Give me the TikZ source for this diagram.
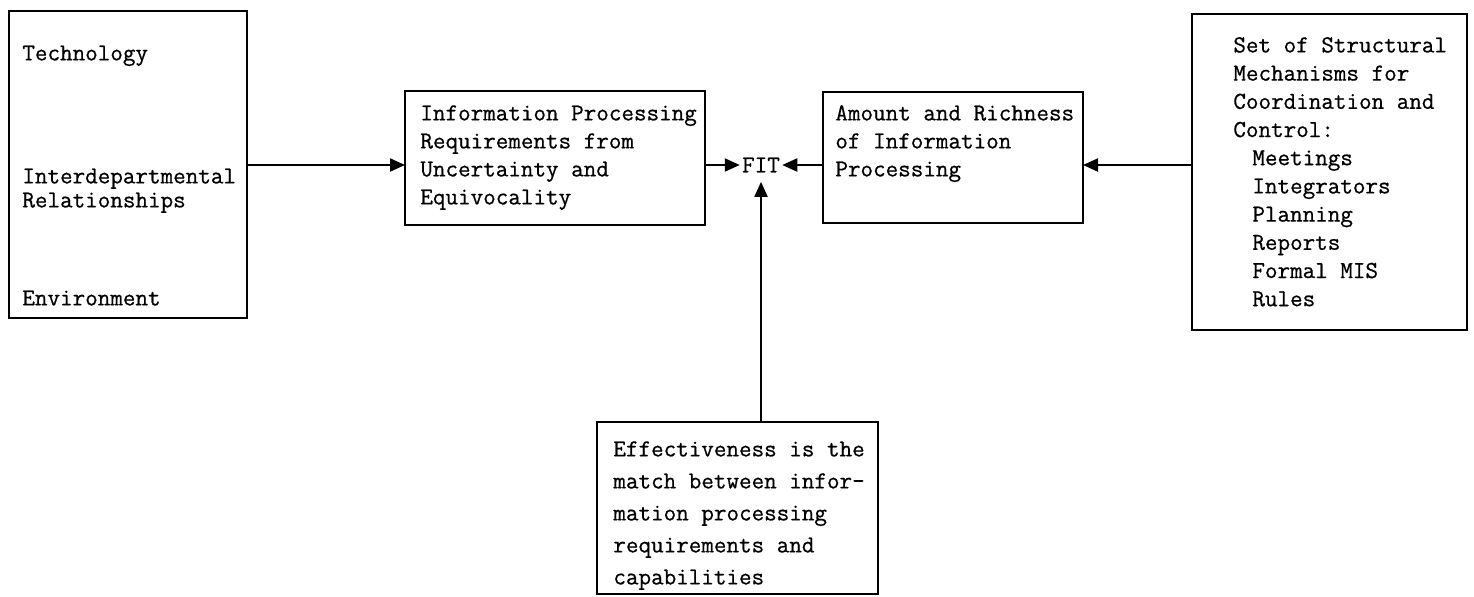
\documentclass[tikz,border=0pt]{standalone}
\usepackage{fontspec}
\newfontfamily\tw{Latin Modern Mono}[FakeBold=0.7]
\usetikzlibrary{arrows.meta}
\begin{document}
\begin{tikzpicture}[x=0.5pt,y=-0.5pt,
  box/.style={draw, line width=1pt, inner sep=0pt, outer sep=0pt, anchor=north west},
  txt/.style={anchor=north west, inner sep=0pt, align=left, font=\tw\fontsize{12.2}{14}\selectfont},
  arr/.style={line width=1pt, -{Triangle[length=7.5pt,width=6.5pt]}},
  ]
\useasboundingbox (0,0) rectangle (1474,596);
% boxes
\node[box, minimum width=119pt, minimum height=153.5pt] (L) at (9,11) {};
\node[box, minimum width=150pt, minimum height=67pt] (R) at (405,91) {};
\node[box, minimum width=130pt, minimum height=65.5pt] (C) at (823,92) {};
\node[box, minimum width=137.5pt, minimum height=158pt] (S) at (1192,14) {};
\node[box, minimum width=140.5pt, minimum height=86pt] (E) at (597,422) {};
% texts
\node[txt] (t1) at (22,44) {\rule{0pt}{8pt}Technology};
\node[txt, font=\tw\fontsize{12.2}{12}\selectfont] (t2) at (22,167) {\rule{0pt}{8pt}Interdepartmental\\Relationships};
\node[txt] (t3) at (22,289) {\rule{0pt}{8pt}Environment};
\node[txt] (tR) at (420,104) {\rule{0pt}{8pt}Information Processing\\Requirements from\\Uncertainty and\\Equivocality};
\node[txt] (tC) at (835,104) {\rule{0pt}{8pt}Amount and Richness\\of Information\\Processing};
\node[txt, font=\tw\fontsize{12.2}{14.1}\selectfont] (tS) at (1233,36) {\rule{0pt}{8pt}Set of Structural\\Mechanisms for\\Coordination and\\Control:\\
  \hspace*{9.5pt}Meetings\\\hspace*{9.5pt}Integrators\\\hspace*{9.5pt}Planning\\\hspace*{9.5pt}Reports\\\hspace*{9.5pt}Formal MIS\\\hspace*{9.5pt}Rules};
\node[txt, font=\tw\fontsize{12.2}{16}\selectfont] (tE) at (613,440) {\rule{0pt}{8pt}Effectiveness is the\\match between infor-\\mation processing\\requirements and\\capabilities};
% FIT
\node[inner xsep=1pt, inner ysep=4.5pt, font=\tw\fontsize{12.2}{14}\selectfont] (FIT) at (761,165) {FIT};
% connectors
\draw[arr] (L.east |- FIT) -- (R.west |- FIT);
\draw[arr] (R.east |- FIT) -- (FIT.west);
\draw[arr] (C.west |- FIT) -- (FIT.east);
\draw[arr] (S.west |- FIT) -- (C.east |- FIT);
\draw[arr] (FIT.south |- E.north) -- (FIT.south);
\end{tikzpicture}
\end{document}
